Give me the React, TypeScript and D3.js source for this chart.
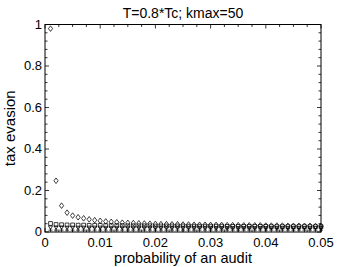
import React, { useEffect, useRef } from 'react'
import { select, scaleLinear, range } from 'd3'

// probability of an audit (x)
const auditProb = [
  0.001, 0.002, 0.003, 0.004, 0.005, 0.006, 0.007, 0.008, 0.009, 0.010,
  0.011, 0.012, 0.013, 0.014, 0.015, 0.016, 0.017, 0.018, 0.019, 0.020,
  0.021, 0.022, 0.023, 0.024, 0.025, 0.026, 0.027, 0.028, 0.029, 0.030,
  0.031, 0.032, 0.033, 0.034, 0.035, 0.036, 0.037, 0.038, 0.039, 0.040,
  0.041, 0.042, 0.043, 0.044, 0.045, 0.046, 0.047, 0.048, 0.049, 0.050,
]

// tax evasion, one list per marker series
const diamonds = [
  0.98, 0.247, 0.127, 0.093, 0.079, 0.071, 0.066, 0.061, 0.057, 0.054,
  0.051, 0.049, 0.047, 0.045, 0.044, 0.043, 0.042, 0.041, 0.040, 0.039,
  0.038, 0.038, 0.037, 0.037, 0.036, 0.036, 0.035, 0.035, 0.035, 0.034,
  0.034, 0.034, 0.033, 0.033, 0.033, 0.032, 0.032, 0.032, 0.032, 0.031,
  0.031, 0.031, 0.031, 0.030, 0.030, 0.030, 0.030, 0.030, 0.029, 0.029,
]
const squares = [
  0.041, 0.036, 0.035, 0.034, 0.034, 0.033, 0.033, 0.032, 0.032, 0.032,
  0.031, 0.031, 0.031, 0.031, 0.030, 0.030, 0.030, 0.030, 0.030, 0.029,
  0.029, 0.029, 0.029, 0.029, 0.029, 0.028, 0.028, 0.028, 0.028, 0.028,
  0.028, 0.028, 0.027, 0.027, 0.027, 0.027, 0.027, 0.027, 0.027, 0.027,
  0.026, 0.026, 0.026, 0.026, 0.026, 0.026, 0.026, 0.026, 0.026, 0.026,
]
const triangles = [
  0.022, 0.022, 0.022, 0.021, 0.021, 0.021, 0.021, 0.021, 0.021, 0.021,
  0.020, 0.020, 0.020, 0.020, 0.020, 0.020, 0.020, 0.020, 0.020, 0.020,
  0.020, 0.020, 0.020, 0.020, 0.020, 0.020, 0.020, 0.020, 0.020, 0.020,
  0.019, 0.019, 0.019, 0.019, 0.019, 0.019, 0.019, 0.019, 0.019, 0.019,
  0.019, 0.019, 0.019, 0.019, 0.019, 0.019, 0.019, 0.019, 0.019, 0.019,
]
const pluses = [
  0.009, 0.009, 0.009, 0.009, 0.009, 0.009, 0.009, 0.009, 0.009, 0.009,
  0.009, 0.009, 0.009, 0.009, 0.009, 0.009, 0.009, 0.009, 0.009, 0.009,
  0.009, 0.009, 0.009, 0.009, 0.009, 0.009, 0.009, 0.009, 0.009, 0.009,
  0.009, 0.009, 0.009, 0.009, 0.009, 0.009, 0.009, 0.009, 0.009, 0.009,
  0.009, 0.009, 0.009, 0.009, 0.009, 0.009, 0.009, 0.009, 0.009, 0.009,
]

const xTicks = [0, 0.01, 0.02, 0.03, 0.04, 0.05]
const xTickLabels = ['0', '0.01', '0.02', '0.03', '0.04', '0.05']
const yTicks = [0, 0.2, 0.4, 0.6, 0.8, 1]
const yTickLabels = ['0', '0.2', '0.4', '0.6', '0.8', '1']

const title = 'T=0.8*Tc; kmax=50'
const xTitle = 'probability of an audit'
const yTitle = 'tax evasion'

const marker = {
  diamond: 'M0,-2.8L2.1,0L0,2.8L-2.1,0Z',
  square: 'M-1.9,-1.9H1.9V1.9H-1.9Z',
  triangle: 'M-2,-1.5H2L0,2Z',
  plus: 'M-2,0H2M0,-2V2',
}

function App() {
  const ref = useRef<SVGSVGElement>(null)

  const W = 354, H = 267
  const margin = { top: 24.5, right: 33, bottom: 35, left: 45 }
  const width = W - margin.left - margin.right
  const height = H - margin.top - margin.bottom

  useEffect(() => {
    const svg = select(ref.current)
    svg.selectAll('*').remove()

    const x = scaleLinear().domain([0, 0.05]).range([margin.left, margin.left + width])
    const y = scaleLinear().domain([0, 1]).range([margin.top + height, margin.top])

    const font = "'Liberation Sans', Arial, Helvetica, sans-serif"

    // minor + major ticks, inside on all four sides
    const g = svg.append('g').attr('stroke', '#000').attr('stroke-width', 0.8)
    range(0, 21).forEach(i => {
      const v = i * 0.0025
      const len = i % 4 === 0 ? 4 : 2.5
      g.append('line').attr('x1', x(v)).attr('x2', x(v))
        .attr('y1', y(0)).attr('y2', y(0) - len)
      g.append('line').attr('x1', x(v)).attr('x2', x(v))
        .attr('y1', y(1)).attr('y2', y(1) + len)
    })
    range(0, 26).forEach(i => {
      const v = i * 0.04
      const len = i % 5 === 0 ? 4 : 2.5
      g.append('line').attr('y1', y(v)).attr('y2', y(v))
        .attr('x1', x(0)).attr('x2', x(0) + len)
      g.append('line').attr('y1', y(v)).attr('y2', y(v))
        .attr('x1', x(0.05)).attr('x2', x(0.05) - len)
    })

    svg.append('rect')
      .attr('x', x(0)).attr('y', y(1))
      .attr('width', width).attr('height', height)
      .attr('fill', 'none').attr('stroke', '#000').attr('stroke-width', 1)

    svg.selectAll('.xt').data(xTicks).join('text')
      .attr('x', d => x(d)).attr('y', y(0) + 14.5)
      .attr('text-anchor', 'middle')
      .attr('font-family', font).attr('font-size', 13)
      .text((d, i) => xTickLabels[i])

    svg.selectAll('.yt').data(yTicks).join('text')
      .attr('x', x(0) - 3).attr('y', d => y(d) + 4)
      .attr('text-anchor', 'end')
      .attr('font-family', font).attr('font-size', 13)
      .text((d, i) => yTickLabels[i])

    svg.append('text')
      .attr('x', margin.left + width / 2).attr('y', 18)
      .attr('text-anchor', 'middle')
      .attr('font-family', font).attr('font-size', 14)
      .text(title)

    svg.append('text')
      .attr('x', margin.left + width / 2).attr('y', 263)
      .attr('text-anchor', 'middle')
      .attr('font-family', font).attr('font-size', 14.5)
      .text(xTitle)

    svg.append('text')
      .attr('transform', `translate(15,${margin.top + height / 2}) rotate(-90)`)
      .attr('text-anchor', 'middle')
      .attr('font-family', font).attr('font-size', 15)
      .text(yTitle)

    const series: [number[], string][] = [
      [pluses, marker.plus],
      [triangles, marker.triangle],
      [squares, marker.square],
      [diamonds, marker.diamond],
    ]
    series.forEach(([vals, shape]) => {
      svg.append('g').selectAll('path').data(vals).join('path')
        .attr('transform', (d, i) => `translate(${x(auditProb[i])},${y(d)})`)
        .attr('d', shape)
        .attr('fill', 'none')
        .attr('stroke', '#000')
        .attr('stroke-width', 0.75)
    })
  }, [])

  return (
    <svg ref={ref} width={W} height={H}
      style={{ position: 'absolute', left: 0, top: 0, background: '#fff' }} />
  )
}

export default App
